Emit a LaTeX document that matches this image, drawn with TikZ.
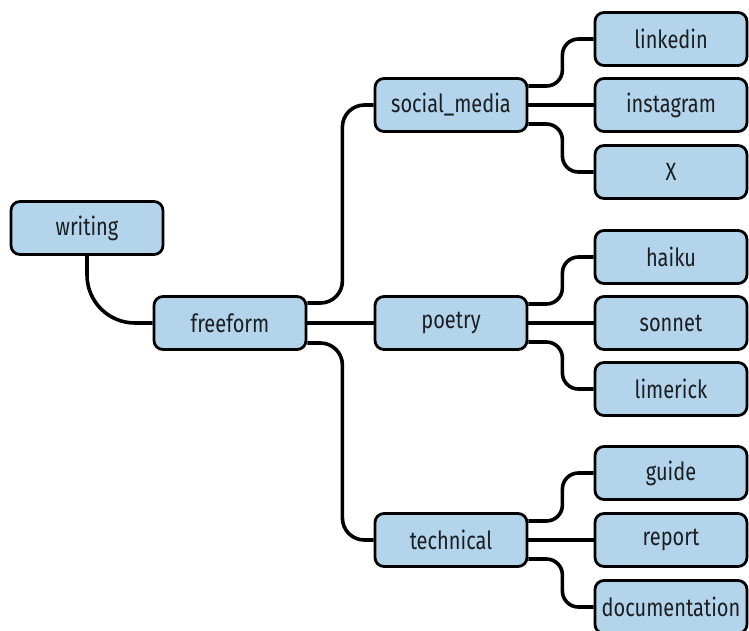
\documentclass[tikz,border=0pt]{standalone}
\usepackage{fontspec}
\setmainfont{Fira Sans}[FakeStretch=0.8]
\usetikzlibrary{calc,backgrounds}
\definecolor{boxfill}{HTML}{B3D4EB}
\definecolor{ink}{HTML}{1A1E22}
\begin{document}
\begin{tikzpicture}[x=1pt,y=-1pt,
  topic/.style={draw=black, line width=2.8pt, fill=boxfill, rounded corners=9pt,
    minimum width=152pt, minimum height=53pt, inner sep=0pt,
    font=\fontsize{25}{29}\selectfont, text=ink},
  link/.style={draw=black, line width=3.6pt, rounded corners=#1},
  link/.default=16pt]
\useasboundingbox (0,0) rectangle (749,630);

% tree nodes
\node[topic] (writing) at (87,228) {writing};
\node[topic] (freeform) at (230,323) {freeform};
\node[topic] (social) at (451,105) {social\_media};
\node[topic] (poetry) at (451,323) {poetry};
\node[topic] (technical) at (451,540) {technical};
\node[topic] (linkedin) at (671,39) {linkedin};
\node[topic] (instagram) at (671,105) {instagram};
\node[topic] (nx) at (671,172) {X};
\node[topic] (haiku) at (671,257) {haiku};
\node[topic] (sonnet) at (671,323) {sonnet};
\node[topic] (limerick) at (671,389) {limerick};
\node[topic] (guide) at (671,473) {guide};
\node[topic] (report) at (671,540) {report};
\node[topic] (documentation) at (671,607) {documentation};

% connectors, behind the boxes
\begin{pgfonlayer}{background}
\draw[link=48pt] (writing.south) |- (freeform.west);

\draw[link=22pt] ($(freeform.east)+(0,-20)$) -- ++(35,0) |- (social.west);
\draw[link] (freeform.east) -- (poetry.west);
\draw[link=22pt] ($(freeform.east)+(0,20)$) -- ++(35,0) |- (technical.west);

\foreach \p/\a/\b/\c in {social/linkedin/instagram/nx,
                         poetry/haiku/sonnet/limerick,
                         technical/guide/report/documentation}{
  \draw[link] ($(\p.east)+(0,-19)$) -- ++(34,0) |- (\a.west);
  \draw[link] (\p.east) -- (\b.west);
  \draw[link] ($(\p.east)+(0,19)$) -- ++(34,0) |- (\c.west);
}
\end{pgfonlayer}
\end{tikzpicture}
\end{document}
